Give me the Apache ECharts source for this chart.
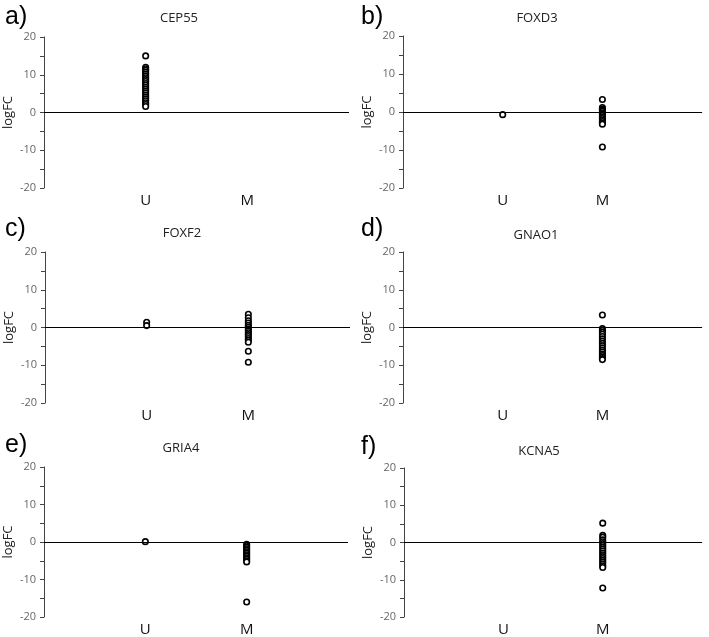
<!DOCTYPE html>
<html>
<head>
<meta charset="utf-8">
<script src="https://cdn.jsdelivr.net/npm/echarts@6/dist/echarts.min.js"></script>
<style>
html,body{margin:0;padding:0;background:#fff;}
#chart{width:709px;height:637px;}
</style>
</head>
<body>
<div id="chart"></div>
<script>
// Categories (x axis) — blank slots pad both ends
const xCategories = [' ', 'U', 'M', '  '];
const yTicks = [-20, -10, 0, 10, 20];
const genes = ['CEP55', 'FOXD3', 'FOXF2', 'GNAO1', 'GRIA4', 'KCNA5'];
const panelLabels = ['a)', 'b)', 'c)', 'd)', 'e)', 'f)'];

// logFC values per gene, per group
const cep55_U = [15, 12, 11.6, 11.2, 10.7, 10.2, 9.7, 9.2, 8.7, 8.2, 7.7, 7.2, 6.7, 6.2, 5.7, 5.2, 4.6, 4.1, 3.6, 3.1, 2.6, 2.1, 1.6];
const cep55_M = [];
const foxd3_U = [-0.7];
const foxd3_M = [3.3, 1.2, 0.8, 0.5, 0.2, -0.2, -0.5, -0.9, -1.3, -1.7, -2.1, -2.5, -2.9, -3.2, -9.2];
const foxf2_U = [1.4, 0.5];
const foxf2_M = [3.5, 2.6, 1.8, 1.2, 0.6, 0.1, -0.4, -0.9, -1.4, -1.9, -2.4, -2.9, -3.4, -3.9, -6.3, -9.2];
const gnao1_U = [];
const gnao1_M = [3.3, -0.3, -0.8, -1.3, -1.8, -2.4, -3.0, -3.6, -4.2, -4.8, -5.4, -6.0, -6.5, -7.0, -7.4, -7.8, -8.2, -8.5];
const gria4_U = [0.1];
const gria4_M = [-0.6, -1.0, -1.4, -1.8, -2.2, -2.6, -3.0, -3.4, -3.8, -4.2, -4.6, -5.0, -5.3, -16];
const kcna5_U = [];
const kcna5_M = [5.2, 1.9, 1.4, 0.7, 0.2, -0.3, -0.8, -1.3, -1.8, -2.3, -2.8, -3.3, -3.8, -4.3, -4.8, -5.3, -5.8, -6.3, -6.7, -12.2];

const groupValues = [
  [cep55_U, cep55_M],
  [foxd3_U, foxd3_M],
  [foxf2_U, foxf2_M],
  [gnao1_U, gnao1_M],
  [gria4_U, gria4_M],
  [kcna5_U, kcna5_M]
];

// layout (pixels)
const grids = [
  {left: 44, top: 37, width: 305, height: 151},
  {left: 403, top: 36, width: 304, height: 152},
  {left: 45, top: 252, width: 305, height: 151},
  {left: 403, top: 252, width: 304, height: 151},
  {left: 44, top: 467, width: 304, height: 152},
  {left: 404, top: 468, width: 303, height: 151}
];
const geneTitlePos = [[174, 7], [532, 7], [177, 222], [531, 224], [176, 437], [534, 440]];
const panelLabelPos = [[0, 0], [356, 0], [0, 212], [356, 212], [0, 428], [356, 430]];

const chart = echarts.init(document.getElementById('chart'), null, {renderer: 'canvas'});

const titles = [];
const xAxes = [];
const yAxes = [];
const series = [];

genes.forEach((g, i) => {
  titles.push({
    text: g, left: geneTitlePos[i][0], top: geneTitlePos[i][1], textAlign: 'center',
    textStyle: {fontFamily: 'Open Sans', fontSize: 13, fontWeight: 'normal', color: '#222'}
  });
  titles.push({
    text: panelLabels[i], left: panelLabelPos[i][0], top: panelLabelPos[i][1],
    textStyle: {fontFamily: 'Liberation Sans', fontSize: 25, fontWeight: 'normal', color: '#000'}
  });
  xAxes.push({
    gridIndex: i, type: 'category', data: xCategories, boundaryGap: false,
    axisLine: {show: false}, axisTick: {show: false}, splitLine: {show: false},
    axisLabel: {interval: 0, margin: 5, fontFamily: 'Open Sans', fontSize: 15, color: '#111'}
  });
  yAxes.push({
    gridIndex: i, type: 'value', min: yTicks[0], max: yTicks[yTicks.length - 1], interval: 5,
    name: 'logFC', nameLocation: 'middle', nameGap: 29,
    nameTextStyle: {fontFamily: 'Open Sans', fontSize: 13, color: '#222'},
    axisLine: {show: true, lineStyle: {color: '#444', width: 1}},
    axisTick: {show: true, length: 4, lineStyle: {color: '#444'}},
    splitLine: {show: false},
    axisLabel: {
      margin: 8, fontFamily: 'Open Sans', fontSize: 11, color: '#666',
      formatter: v => (yTicks.indexOf(v) >= 0 ? String(v) : '')
    }
  });
  const data = [];
  groupValues[i].forEach((vals, gi) => {
    const cat = xCategories[gi + 1];
    vals.forEach(v => data.push([cat, v]));
  });
  series.push({
    type: 'scatter', xAxisIndex: i, yAxisIndex: i, data: data,
    symbol: 'circle', symbolSize: 5.5,
    itemStyle: {color: '#fff', borderColor: '#000', borderWidth: 1.6, opacity: 1},
    markLine: {
      silent: true, symbol: 'none', label: {show: false},
      lineStyle: {color: '#000', width: 1.2, type: 'solid'},
      data: [{yAxis: 0}], animation: false
    },
    z: 3, animation: false
  });
});

chart.setOption({
  animation: false,
  backgroundColor: '#fff',
  title: titles,
  grid: grids,
  xAxis: xAxes,
  yAxis: yAxes,
  series: series
});
</script>
</body>
</html>
